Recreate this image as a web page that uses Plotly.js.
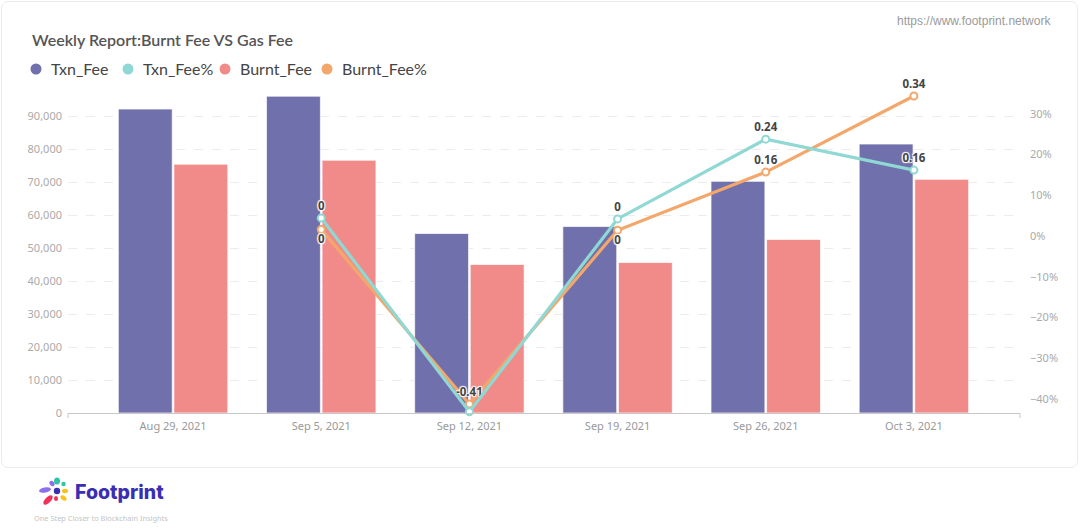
<!DOCTYPE html>
<html>
<head>
<meta charset="utf-8">
<script src="https://cdn.plot.ly/plotly-3.0.1.min.js"></script>
<style>
  html, body { margin: 0; padding: 0; background: #ffffff; width: 1080px; height: 531px; overflow: hidden; }
  #card { position: absolute; left: 1px; top: 1px; width: 1077px; height: 467px; border: 1px solid #ebebeb; border-radius: 7px; background: #fff; box-sizing: border-box; }
  #chart { position: absolute; left: 0; top: 0; width: 1080px; height: 531px; }
  #brand { position: absolute; left: 75px; top: 480px; font-family: "Inter", "Noto Sans", sans-serif; font-weight: 800; font-size: 19.5px; color: #3a2fb3; letter-spacing: 0px; }
  #tagline { position: absolute; left: 34px; top: 513px; font-family: "Noto Sans", sans-serif; font-size: 7.4px; color: #c4c4c4; }
  #logo { position: absolute; left: 34px; top: 476px; }
</style>
</head>
<body>
<div id="card"></div>
<div id="chart"></div>
<svg id="logo" width="40" height="32" viewBox="0 0 40 32">
  <g transform="translate(23,15)">
    <ellipse cx="0" cy="-10" rx="3" ry="3.6" fill="#2ec4a6"/>
    <ellipse cx="6.5" cy="-7" rx="2.2" ry="2.2" fill="#2ec4a6"/>
    <ellipse cx="-5" cy="-7.5" rx="2.2" ry="3" fill="#8b6ff0" transform="rotate(-40 -5 -7.5)"/>
    <ellipse cx="-12" cy="-1" rx="6" ry="2.6" fill="#8b6ff0" transform="rotate(-10 -12 -1)"/>
    <ellipse cx="-9" cy="9" rx="6" ry="2.8" fill="#f0325a" transform="rotate(-45 -9 9)"/>
    <ellipse cx="-1" cy="7.5" rx="2" ry="2.6" fill="#f0325a"/>
    <ellipse cx="8" cy="0" rx="3" ry="2.2" fill="#f6c21c"/>
    <ellipse cx="6.5" cy="7" rx="3.4" ry="2.2" fill="#f6c21c" transform="rotate(35 6.5 7)"/>
    <circle cx="0" cy="0" r="3.2" fill="#3a2fb3"/>
  </g>
</svg>
<div id="brand">Footprint</div>
<div id="tagline">One Step Closer to Blockchain Insights</div>
<script>
// ---- data ----
const weeks = ["Aug 29, 2021", "Sep 5, 2021", "Sep 12, 2021", "Sep 19, 2021", "Sep 26, 2021", "Oct 3, 2021"];
const txnFee = [92100, 96000, 54400, 56500, 70200, 81500];
const burntFee = [75400, 76600, 45000, 45600, 52600, 70800];
const txnFeePct = [null, 0.044, -0.432, 0.042, 0.238, 0.162];
const burntFeePct = [null, 0.016, -0.413, 0.014, 0.157, 0.344];
const txnFeePctLabels = ["", "0", "", "0", "0.24", "0.16"];
const burntFeePctLabels = ["", "0", "-0.41", "0", "0.16", "0.34"];
const seriesNames = ["Txn_Fee", "Txn_Fee%", "Burnt_Fee", "Burnt_Fee%"];
const leftTicks = [0, 10000, 20000, 30000, 40000, 50000, 60000, 70000, 80000, 90000];
const rightTicks = [-0.4, -0.3, -0.2, -0.1, 0, 0.1, 0.2, 0.3];

// ---- styling ----
const colors = {"Txn_Fee": "#7070ac", "Txn_Fee%": "#8fd8d3", "Burnt_Fee": "#f08b8a", "Burnt_Fee%": "#f3a76b"};
const W = 1080, H = 531, L = 68, R = 1020, T = 83, B = 413;
const px2x = p => (p - L) / (R - L);
const px2y = p => (B - p) / (B - T);

const labelFont = {family: "Noto Sans, sans-serif", size: 11.5, color: "#444", weight: 700,
  shadow: "1px 1px 1px #fff, -1px -1px 1px #fff, 1px -1px 1px #fff, -1px 1px 1px #fff"};

const traces = [
  {type: "bar", name: seriesNames[0], x: weeks, y: txnFee, marker: {color: colors["Txn_Fee"], line: {color: "rgba(255,255,255,0.7)", width: 1}}, hoverinfo: "x+y"},
  {type: "bar", name: seriesNames[2], x: weeks, y: burntFee, marker: {color: colors["Burnt_Fee"], line: {color: "rgba(255,255,255,0.7)", width: 1}}, hoverinfo: "x+y"},
  {type: "scatter", name: seriesNames[3], x: weeks, y: burntFeePct, yaxis: "y2", mode: "lines+markers+text",
   line: {color: colors["Burnt_Fee%"], width: 3.2}, marker: {symbol: "circle", size: 7, color: "#fff", line: {color: colors["Burnt_Fee%"], width: 2}},
   text: burntFeePctLabels, textposition: ["top center", "bottom center", "top center", "bottom center", "top center", "top center"],
   textfont: labelFont, cliponaxis: false},
  {type: "scatter", name: seriesNames[1], x: weeks, y: txnFeePct, yaxis: "y2", mode: "lines+markers+text",
   line: {color: colors["Txn_Fee%"], width: 3.2}, marker: {symbol: "circle", size: 7, color: "#fff", line: {color: colors["Txn_Fee%"], width: 2}},
   text: txnFeePctLabels, textposition: "top center", textfont: labelFont, cliponaxis: false}
];

// legend (drawn as shapes + annotations to match the original spacing)
const legendX = [36, 128, 225, 327];
const legendY = 69;
const shapes = [];
const annotations = [];
seriesNames.forEach((n, i) => {
  shapes.push({type: "circle", xref: "paper", yref: "paper", xsizemode: "pixel", ysizemode: "pixel",
    xanchor: px2x(legendX[i]), yanchor: px2y(legendY), x0: -5.5, x1: 5.5, y0: -5.5, y1: 5.5,
    fillcolor: colors[n], line: {width: 0}});
  annotations.push({xref: "paper", yref: "paper", x: px2x(legendX[i] + 13), y: px2y(legendY),
    xanchor: "left", yanchor: "middle", showarrow: false, text: n,
    font: {family: "Lato, sans-serif", size: 16, color: "#444"}});
});
// small end ticks on the x axis line
[0, 1].forEach(xp => shapes.push({type: "line", xref: "paper", yref: "paper", ysizemode: "pixel", yanchor: 0,
  x0: xp, x1: xp, y0: 0, y1: -5, line: {color: "#c8c8c8", width: 1}}));
annotations.push({xref: "paper", yref: "paper", x: px2x(1053), y: px2y(21), xanchor: "right", yanchor: "middle",
  showarrow: false, text: "https://www.footprint.network", font: {family: "Liberation Sans, Arial, sans-serif", size: 12, color: "#9a9a9a"}});

const layout = {
  width: W, height: H,
  margin: {l: L, r: W - R, t: T, b: H - B, pad: 0},
  paper_bgcolor: "rgba(0,0,0,0)", plot_bgcolor: "rgba(0,0,0,0)",
  showlegend: false,
  title: {text: "Weekly Report:Burnt Fee VS Gas Fee", xref: "container", yref: "container", x: 32 / W, xanchor: "left",
    y: 1 - 40 / H, yanchor: "middle", font: {family: "Lato, sans-serif", size: 16, color: "#555", weight: 600}},
  barmode: "group", bargap: 0.25, bargroupgap: 0.03,
  xaxis: {type: "category", range: [-0.709, 5.716], showgrid: false, zeroline: false, showline: true, linecolor: "#c8c8c8", linewidth: 1,
    ticks: "", ticklabelstandoff: 3, tickfont: {family: "Noto Sans, sans-serif", size: 11, color: "#999"}, fixedrange: true},
  yaxis: {range: [0, 100000], tickvals: leftTicks, tickformat: ",", showgrid: true, gridcolor: "#ececec", griddash: "dash", gridwidth: 1,
    zeroline: false, showline: false, ticks: "", ticklabelstandoff: 5, tickfont: {family: "Noto Sans, sans-serif", size: 11, color: "#aaa"}},
  yaxis2: {overlaying: "y", side: "right", range: [-0.435, 0.376], tickvals: rightTicks, tickformat: ".0%", showgrid: false, zeroline: false,
    showline: false, ticks: "", ticklabelstandoff: 9, tickfont: {family: "Noto Sans, sans-serif", size: 11, color: "#aaa"}},
  shapes: shapes, annotations: annotations
};

Plotly.newPlot("chart", traces, layout, {displayModeBar: false, staticPlot: true});
</script>
</body>
</html>
